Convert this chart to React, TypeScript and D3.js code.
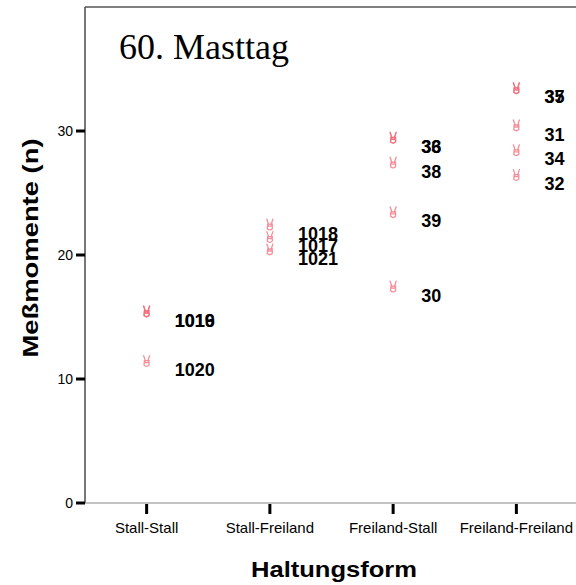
import React from "react";
import * as d3 from "d3";

const categories = ["Stall-Stall", "Stall-Freiland", "Freiland-Stall", "Freiland-Freiland"];
const pointIds = ["1016", "1019", "1020", "1018", "1017", "1021", "33", "36", "38", "39", "30", "35", "37", "31", "34", "32"];
const pointCategory = [0, 0, 0, 1, 1, 1, 2, 2, 2, 2, 2, 3, 3, 3, 3, 3];
const pointValues = [15, 15, 11, 22, 21, 20, 29, 29, 27, 23, 17, 33, 33, 30, 28, 26];
const yTicks = [0, 10, 20, 30];

const W = 576;
const H = 585;

// small "victory hand" marker, drawn relative to the point
const handPath =
  "M-1.2,-5.5 L-3,-11 M1.2,-5.5 L3,-11 M-2.2,-6 L-2.6,-1.5 Q0,1 2.4,-1.5 L2.4,-6 Z M-2.4,-4 L2.4,-4";

export default function App() {
  const x = d3.scalePoint<string>().domain(categories).range([85, 578]).padding(0.5);
  const y = d3.scaleLinear().domain([0, 40]).range([503, 7]);
  const sans = "Arial, 'Liberation Sans', Helvetica, sans-serif";
  return (
    <svg width={W} height={H} style={{ position: "absolute", left: 0, top: 0 }}>
      <rect x={0} y={0} width={W} height={H} fill="#fff" />
      {/* frame */}
      <line x1={85} x2={W} y1={y(40)} y2={y(40)} stroke="#555" strokeWidth={1.6} />
      <line x1={85} x2={85} y1={y(40)} y2={y(0)} stroke="#555" strokeWidth={1.6} />
      <line x1={85} x2={W} y1={y(0)} y2={y(0)} stroke="#888" strokeWidth={1.2} />
      {/* y ticks */}
      {yTicks.map((t) => (
        <g key={t}>
          <line x1={76} x2={85} y1={y(t)} y2={y(t)} stroke="#000" strokeWidth={3} />
          <text x={73} y={y(t)} dy="0.36em" textAnchor="end" fontFamily={sans} fontSize={14} fill="#000">
            {t}
          </text>
        </g>
      ))}
      {/* x ticks */}
      {categories.map((c) => (
        <g key={c}>
          <line x1={x(c)!} x2={x(c)!} y1={504} y2={514} stroke="#000" strokeWidth={3} />
          <text x={x(c)!} y={533} textAnchor="middle" fontFamily={sans} fontSize={15} fill="#000">
            {c}
          </text>
        </g>
      ))}
      {/* points */}
      {pointValues.map((v, i) => {
        const cx = x(categories[pointCategory[i]])!;
        return (
          <g key={i}>
            <path
              d={handPath}
              transform={`translate(${cx},${y(v)})`}
              fill="none"
              stroke="#f0606e"
              strokeOpacity={0.7}
              strokeWidth={1.3}
              strokeLinecap="round"
            />
            <text x={cx + 28} y={y(v) + 9.5} fontFamily={sans} fontWeight="bold" fontSize={18} fill="#000">
              {pointIds[i]}
            </text>
          </g>
        );
      })}
      {/* title */}
      <text x={119} y={59} fontFamily="'Times New Roman', 'Liberation Serif', serif" fontSize={36} fill="#000">
        60. Masttag
      </text>
      {/* axis titles */}
      <text
        transform={`translate(38,${248}) rotate(-90)`}
        textAnchor="middle"
        fontFamily={sans}
        fontWeight="bold"
        fontSize={22}
        textLength={219}
        lengthAdjust="spacingAndGlyphs"
        fill="#000"
      >
        Meßmomente (n)
      </text>
      <text
        x={334}
        y={577}
        textAnchor="middle"
        fontFamily={sans}
        fontWeight="bold"
        fontSize={22}
        textLength={166}
        lengthAdjust="spacingAndGlyphs"
        fill="#000"
      >
        Haltungsform
      </text>
    </svg>
  );
}
